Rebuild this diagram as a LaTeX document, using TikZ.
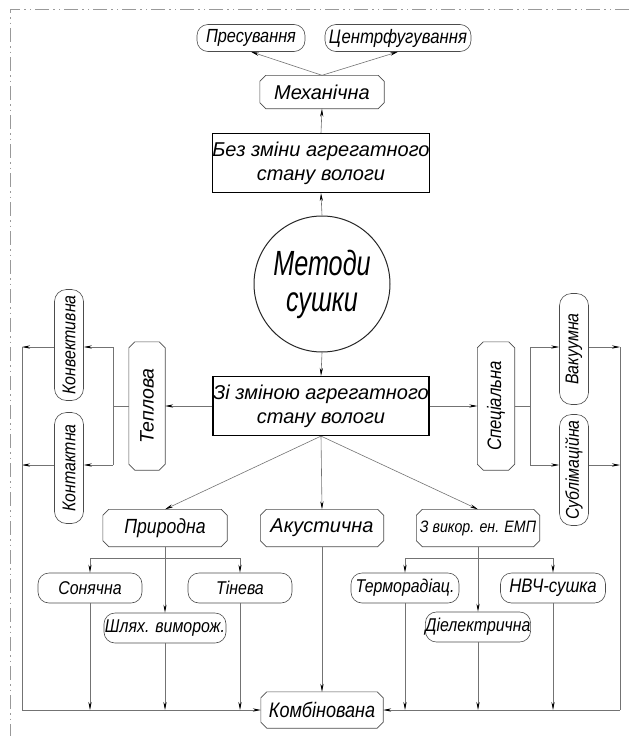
\documentclass[tikz,border=0pt]{standalone}
\usepackage{fontspec}
\setmainfont{Liberation Sans}
\newfontfamily\gostn{Liberation Sans}[FakeStretch=0.72]
\newfontfamily\gosts{Liberation Sans}[FakeStretch=0.86]
\usetikzlibrary{arrows.meta}
\newcommand\fsz[1]{\itshape\fontsize{#1}{#1}\selectfont}
\newcommand\ssz[1]{\gosts\itshape\fontsize{#1}{#1}\selectfont}
\tikzset{
  every node/.style={inner sep=0pt, align=center},
  pill/.style={draw=black!70, line width=0.6pt, rounded corners=11pt, font=\ssz{18.5}},
  vpill/.style={pill, rounded corners=12pt, minimum width=29pt, minimum height=111pt},
  hpill/.style={pill, minimum height=30pt},
  chbox/.style={font=\fsz{19}},
  rectbox/.style={draw=black, line width=1.2pt, minimum width=216pt, minimum height=59pt, font=\itshape\fontsize{20}{24}\selectfont},
  conn/.style={draw=black!55, line width=0.6pt},
  arr/.style={conn, -{Stealth[length=8pt,width=3.2pt,color=black]}},
  boxline/.style={draw=black!70, line width=0.6pt},
}
\newcommand\chambox[1]{\draw[boxline] ([xshift=6pt]#1.north west) -- ([xshift=-6pt]#1.north east) -- ([yshift=-6pt]#1.north east) -- ([yshift=6pt]#1.south east) -- ([xshift=-6pt]#1.south east) -- ([xshift=6pt]#1.south west) -- ([yshift=6pt]#1.south west) -- ([yshift=-6pt]#1.north west) -- cycle;}
\begin{document}
\begin{tikzpicture}[x=1pt,y=-1pt]
\useasboundingbox (0,0) rectangle (629,736);
% frame
\draw[black!40, line width=0.6pt, dash pattern=on 14pt off 4pt on 1.5pt off 4pt on 1.5pt off 4pt] (629,9) -- (10,9) -- (10,736);

% top part
\node[hpill, minimum width=108pt, minimum height=27pt, font=\ssz{19}] (pres) at (251,38) {Пресування};
\node[hpill, minimum width=146pt, minimum height=27pt, font=\ssz{19.5}] (cent) at (398,38) {Центрфугування};
\node[chbox, minimum width=124pt, minimum height=33pt, font=\fsz{20}] (mech) at (322,92) {Механічна};
\chambox{mech}
\node[rectbox] (bez) at (321,163) {Без зміни агрегатного\\стану вологи};
\node[circle, draw=black!85, line width=1pt, minimum size=136pt, font=\gostn\itshape\fontsize{35}{36}\selectfont] (met) at (322,284) {Методи\\сушки};
\node[rectbox] (zi) at (321,406) {Зі зміною агрегатного\\стану вологи};

% side boxes
\node[chbox, minimum width=36pt, minimum height=128pt, font=\fsz{19.5}] (tepl) at (147,406) {\rotatebox{90}{Теплова}};
\chambox{tepl}
\node[chbox, minimum width=37pt, minimum height=128pt, font=\ssz{19.5}] (spec) at (496,406) {\rotatebox{90}{Спеціальна}};
\chambox{spec}
\node[vpill] (konv) at (69,345) {\rotatebox{90}{Конвективна}};
\node[vpill] (kont) at (69,468) {\rotatebox{90}{Контактна}};
\node[vpill] (vak) at (574,349) {\rotatebox{90}{Вакуумна}};
\node[vpill] (subl) at (574,470) {\rotatebox{90}{Сублімаційна}};

% second row
\node[chbox, minimum width=124pt, minimum height=37pt, font=\ssz{20.5}] (pryr) at (165,528) {Природна};
\chambox{pryr}
\node[chbox, minimum width=123pt, minimum height=37pt, font=\fsz{20}] (akus) at (322,528) {Акустична};
\chambox{akus}
\node[chbox, minimum width=123pt, minimum height=37pt, font=\ssz{16.5}] (emp) at (478,528) {З викор. ен. ЕМП};
\chambox{emp}

% third row
\node[hpill, minimum width=104pt] (son) at (90,588) {Сонячна};
\node[hpill, minimum width=104pt] (tin) at (240,588) {Тінева};
\node[hpill, minimum width=122pt] (shl) at (165,628) {Шлях. виморож.};
\node[hpill, minimum width=108pt] (ter) at (405,588) {Терморадіац.};
\node[hpill, minimum width=105pt, font=\ssz{19.5}] (nvch) at (553,588) {НВЧ-сушка};
\node[hpill, minimum width=103pt] (diel) at (478,627) {Діелектрична};

% bottom
\node[chbox, minimum width=122pt, minimum height=36pt, font=\ssz{21}] (komb) at (322,710) {Комбінована};
\chambox{komb}

% junction coordinates
\coordinate (tj) at (113,406);
\coordinate (tjt) at (113,347);
\coordinate (tjb) at (113,465);
\coordinate (lft) at (22,347);
\coordinate (lfb) at (22,465);
\coordinate (lbot) at (22,710);
\coordinate (sj) at (530,406);
\coordinate (sjt) at (530,347);
\coordinate (sjb) at (530,465);
\coordinate (rt) at (620,347);
\coordinate (rb) at (620,465);
\coordinate (rbot) at (620,710);
\coordinate (pl) at (90,558);
\coordinate (pr) at (240,558);
\coordinate (el) at (405,558);
\coordinate (er) at (553,558);

% top connectors
\draw[arr] (mech.north) -- (pres.south);
\draw[arr] (mech.north) -- (cent.south);
\draw[arr] (bez.north) -- (mech.south);
\draw[arr] (met.north) -- (bez.south);
\draw[arr] (met.south) -- (zi.north);

% left side
\draw[arr] (zi.west) -- (tepl.east);
\draw[conn] (tepl.west) -- (tj);
\draw[conn] (tjt) -- (tjb);
\draw[arr] (tjt) -- (tjt -| konv.east);
\draw[arr] (tjb) -- (tjb -| kont.east);
\draw[arr] (konv.west |- tjt) -- (lft);
\draw[arr] (kont.west |- tjb) -- (lfb);
\draw[conn] (lft) -- (lbot);
\draw[arr] (lbot) -- (komb.west);

% right side
\draw[arr] (zi.east) -- (spec.west);
\draw[conn] (spec.east) -- (sj);
\draw[conn] (sjt) -- (sjb);
\draw[arr] (sjt) -- (sjt -| vak.west);
\draw[arr] (sjb) -- (sjb -| subl.west);
\draw[arr] (vak.east |- sjt) -- (rt);
\draw[arr] (subl.east |- sjb) -- (rb);
\draw[conn] (rt) -- (rbot);
\draw[arr] (rbot) -- (komb.east);

% middle fan
\draw[arr] (zi.south) -- (pryr.north);
\draw[arr] (zi.south) -- (akus.north);
\draw[arr] (zi.south) -- (emp.north);

% natural branch
\draw[arr] (pryr.south) -- (shl.north);
\draw[conn] (pl) -- (pr);
\draw[arr] (pl) -- (son.north);
\draw[arr] (pr) -- (tin.north);

% EMP branch
\draw[arr] (emp.south) -- (diel.north);
\draw[conn] (el) -- (er);
\draw[arr] (el) -- (ter.north);
\draw[arr] (er) -- (nvch.north);

% to combined
\draw[arr] (akus.south) -- (komb.north);
\foreach \n in {son,shl,tin,ter,diel,nvch}
  \draw[arr] (\n.south) -- (\n.south |- komb.west);
\end{tikzpicture}
\end{document}
